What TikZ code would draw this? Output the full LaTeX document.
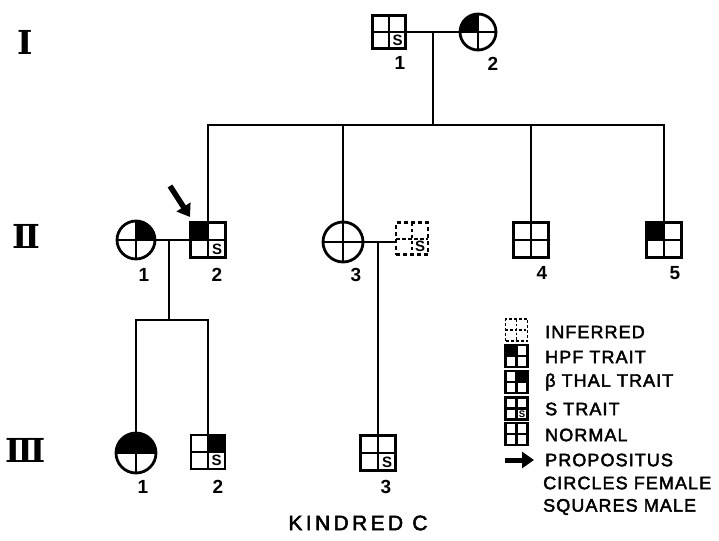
\documentclass[tikz,border=0pt]{standalone}
\usepackage{fontspec}
\setmainfont{Liberation Sans}
\newfontfamily\romanfont{DejaVu Serif}
\newfontfamily\legfont[LetterSpace=6,FakeBold=2.5]{Liberation Sans}
\newfontfamily\titlefont[LetterSpace=16,FakeBold=2.5]{Liberation Sans}
\usetikzlibrary{arrows.meta}
\tikzset{
  quadcross/.style={path picture={\draw[line width=2.6pt]
      (path picture bounding box.north) -- (path picture bounding box.south)
      (path picture bounding box.west) -- (path picture bounding box.east);}},
  dquadcross/.style={path picture={\draw[line width=2pt, dash pattern=on 3.5pt off 2.5pt]
      (path picture bounding box.north) -- (path picture bounding box.south)
      (path picture bounding box.west) -- (path picture bounding box.east);}},
  sym/.style={draw, line width=2.8pt, inner sep=0pt, outer sep=0pt},
  male/.style={sym, rectangle, minimum size=34pt, quadcross},
  female/.style={sym, circle, minimum size=38pt, quadcross},
  inferred/.style={draw, line width=2.2pt, dash pattern=on 4pt off 3pt, inner sep=0pt, outer sep=0pt, rectangle, minimum size=32pt, dquadcross},
  legmale/.style={sym, line width=2.4pt, rectangle, minimum size=22pt, path picture={\draw[line width=2.2pt]
      (path picture bounding box.north) -- (path picture bounding box.south)
      (path picture bounding box.west) -- (path picture bounding box.east);}},
  leginferred/.style={draw, line width=1.8pt, dash pattern=on 3pt off 2pt, inner sep=0pt, outer sep=0pt, rectangle, minimum size=22pt, path picture={\draw[line width=1.6pt, dash pattern=on 2.5pt off 2pt]
      (path picture bounding box.north) -- (path picture bounding box.south)
      (path picture bounding box.west) -- (path picture bounding box.east);}},
  sletter/.style={inner sep=0pt, font=\fontsize{15}{15}\selectfont\bfseries},
  legs/.style={inner sep=0pt, font=\fontsize{9.5}{9.5}\selectfont\bfseries},
  lab/.style={inner sep=0pt, font=\fontsize{19}{19}\selectfont\bfseries},
  gen/.style={inner sep=0pt, font=\fontsize{33}{33}\selectfont\romanfont\bfseries},
  legtext/.style={inner sep=0pt, anchor=west, font=\fontsize{18}{18}\selectfont\legfont},
  line/.style={line width=1.9pt},
  propo/.style={line width=5.5pt, -{Triangle[length=12pt,width=16pt]}},
}
\begin{document}
\begin{tikzpicture}[x=1pt,y=-1pt]
\useasboundingbox (0,0) rectangle (719,540);
% generation labels
\node[gen] (g1) at (25,42) {Ⅰ};
\node[gen] (g2) at (26,236) {Ⅱ};
\node[gen] (g3) at (26,450) {Ⅲ};
% generation I
\node[male, minimum size=33pt] (i1) at (389,32) {};
\node[female, minimum size=36pt] (i2) at (478,32) {};
\fill (i2.center) -- (i2.north) arc[start angle=90, end angle=180, radius=18pt] -- cycle;
\node[sletter] (s-i1) at ([shift={(8.5,8.5)}]i1.center) {S};
\node[lab] (l-i1) at (400,63) {1};
\node[lab] (l-i2) at (493,64) {2};
% generation II
\node[female] (ii1) at (136,240) {};
\fill (ii1.center) -- (ii1.north) arc[start angle=90, end angle=0, radius=19pt] -- cycle;
\node[male, minimum size=35pt] (ii2) at (208,240) {};
\fill (ii2.north west) rectangle (ii2.center);
\node[sletter] (s-ii2) at ([shift={(9,9)}]ii2.center) {S};
\node[female, minimum size=40pt] (ii3) at (343,242) {};
\node[inferred] (ii3s) at (412,238.5) {};
\node[sletter] (s-ii3s) at ([shift={(8,8)}]ii3s.center) {S};
\node[male, minimum size=35pt] (ii4) at (531,240) {};
\node[male, minimum size=35pt] (ii5) at (664,240) {};
\fill (ii5.north west) rectangle (ii5.center);
\node[lab] (l-ii1) at (144,275) {1};
\node[lab] (l-ii2) at (217,275) {2};
\node[lab] (l-ii3) at (356,275) {3};
\node[lab] (l-ii4) at (542,273) {4};
\node[lab] (l-ii5) at (675,273) {5};
% generation III
\node[female, minimum size=40pt] (iii1) at (136,453) {};
\fill (iii1.west) arc[start angle=180, end angle=0, radius=20pt] -- cycle;
\node[male, minimum size=34pt] (iii2) at (208,452) {};
\fill (iii2.north east) rectangle (iii2.center);
\node[sletter] (s-iii2) at ([shift={(8.5,8.5)}]iii2.center) {S};
\node[male, minimum size=35pt] (iii3) at (378,453) {};
\node[sletter] (s-iii3) at ([shift={(9,9)}]iii3.center) {S};
\node[lab] (l-iii1) at (143,487) {1};
\node[lab] (l-iii2) at (218,487) {2};
\node[lab] (l-iii3) at (386,487) {3};
% connectors
\coordinate (m1) at (433,32);
\coordinate (sib2) at (433,125);
\draw[line] (i1) -- (i2);
\draw[line] (m1) -- (sib2);
\draw[line] (ii2.north) |- (sib2) -| (ii5.north);
\draw[line] (ii3.north) -- (ii3.north |- sib2);
\draw[line] (ii4.north) -- (ii4.north |- sib2);
\draw[line] (ii1) -- (ii2);
\coordinate (m2) at (169,240);
\coordinate (sib3) at (169,320);
\draw[line] (m2) -- (sib3);
\draw[line] (iii1.north) |- (sib3) -| (iii2.north);
\draw[line] (ii3.east) -- (ii3.east -| ii3s.west);
\coordinate (m3) at (378,242);
\draw[line] (m3) -- (iii3.north);
% propositus arrow
\coordinate (pa1) at (170,186);
\coordinate (pa2) at (190,217);
\draw[propo] (pa1) -- (pa2);
% legend
\node[leginferred] (k1) at (516.5,330) {};
\node[legmale] (k2) at (516.5,356) {};
\fill (k2.north west) rectangle (k2.center);
\node[legmale] (k3) at (516.5,382) {};
\fill (k3.north east) rectangle (k3.center);
\node[legmale] (k4) at (516.5,408.5) {};
\node[legs] (s-k4) at ([shift={(5.5,5.5)}]k4.center) {S};
\node[legmale] (k5) at (516.5,434) {};
\coordinate (ka1) at (505,460);
\coordinate (ka2) at (534,460);
\draw[propo, line width=5pt] (ka1) -- (ka2);
\node[legtext] (t1) at (545,332) {INFERRED};
\node[legtext] (t2) at (545,357) {HPF TRAIT};
\node[legtext] (t3) at (545,382) {β THAL TRAIT};
\node[legtext] (t4) at (545,409) {S TRAIT};
\node[legtext] (t5) at (545,435) {NORMAL};
\node[legtext] (t6) at (545,460) {PROPOSITUS};
\node[legtext] (t7) at (543,483) {CIRCLES FEMALE};
\node[legtext] (t8) at (543,507) {SQUARES MALE};
\node[inner sep=0pt, font=\fontsize{21}{21}\selectfont\titlefont] (title) at (358,523) {KINDRED C};
\end{tikzpicture}
\end{document}
